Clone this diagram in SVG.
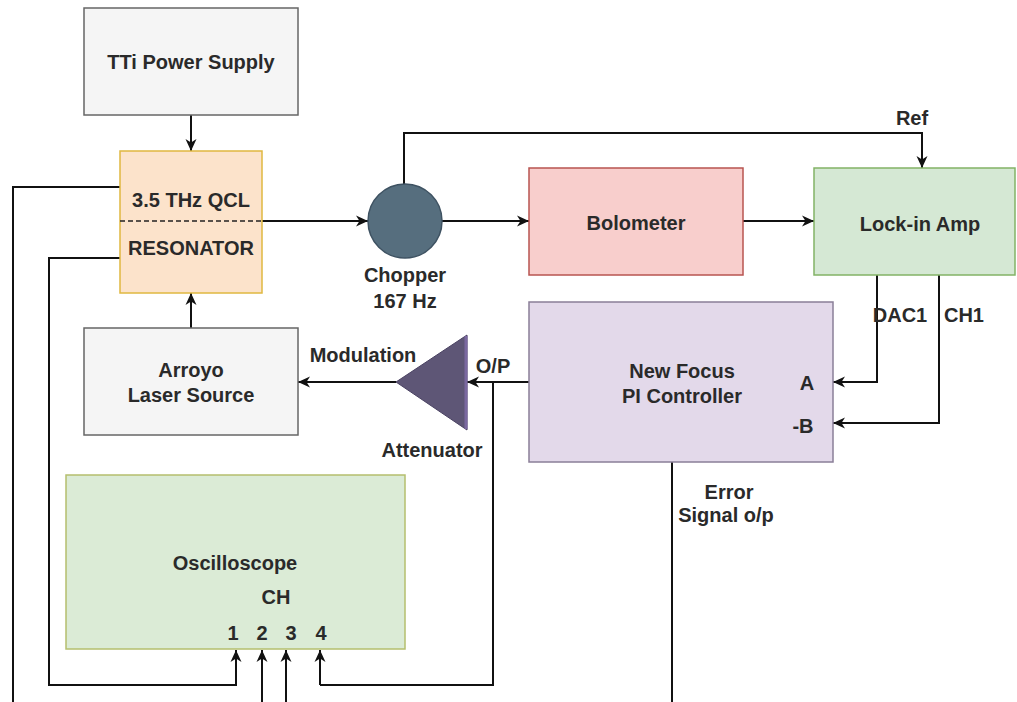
<svg xmlns="http://www.w3.org/2000/svg" width="1017" height="702" viewBox="0 0 1017 702">
<defs>
<marker id="arr" viewBox="0 0 12 12" refX="12" refY="6" markerWidth="12" markerHeight="12" markerUnits="userSpaceOnUse" orient="auto">
<path d="M0,0.5 L12,6 L0,11.5 L3.5,6 Z" fill="#111"/>
</marker>
</defs>
<style>
text{font-family:"Liberation Sans",Arial,sans-serif;font-size:20px;font-weight:bold;fill:#2a2a2a;text-anchor:middle}
.c{fill:none;stroke:#111;stroke-width:2}
.ca{fill:none;stroke:#111;stroke-width:2;marker-end:url(#arr)}
.box{stroke-width:1.5}
</style>
<rect width="1017" height="702" fill="#ffffff"/>
<g id="connectors">
<path class="ca" d="M191,115 V151"/>
<path class="ca" d="M191,328 V293"/>
<path class="ca" d="M262,221 H368"/>
<path class="ca" d="M442,221 H529"/>
<path class="ca" d="M404,185 V133 H922 V168"/>
<path class="ca" d="M743,221 H814"/>
<path class="ca" d="M877,275 V382 H833"/>
<path class="ca" d="M939,275 V423 H833"/>
<path class="ca" d="M529,382 H467"/>
<path class="ca" d="M396,382 H298"/>
<path class="c" d="M493,382 V685 H320"/>
<path class="ca" d="M320,685 V650"/>
<path class="ca" d="M120,258 H49 V685 H236 V650"/>
<path class="ca" d="M120,187 H13 V712 H262 V650"/>
<path class="ca" d="M672,462 V720 H286 V650"/>
</g>
<g id="tti">
<rect class="box" x="84" y="8" width="214" height="107" fill="#f5f5f5" stroke="#666"/>
<text x="191" y="69">TTi Power Supply</text>
</g>
<g id="qcl">
<rect class="box" x="120" y="151" width="142" height="142" fill="#fce3cb" stroke="#e0b840"/>
<line x1="120" y1="221" x2="262" y2="221" stroke="#222" stroke-width="1.5" stroke-dasharray="5,3"/>
<text x="191" y="207">3.5 THz QCL</text>
<text x="191" y="255">RESONATOR</text>
</g>
<g id="chopper">
<circle cx="405" cy="221" r="37" fill="#566e7e" stroke="#3e5262" stroke-width="1.5"/>
<text x="405" y="282">Chopper</text>
<text x="405" y="308">167 Hz</text>
</g>
<g id="bolometer">
<rect class="box" x="529" y="168" width="214" height="107" fill="#f8cecc" stroke="#b85450"/>
<text x="636" y="230">Bolometer</text>
</g>
<g id="lockin">
<rect class="box" x="814" y="168" width="201" height="107" fill="#d5e8d4" stroke="#82b366"/>
<text x="920" y="231">Lock-in Amp</text>
</g>
<g id="labels">
<text x="912" y="125">Ref</text>
<text x="900" y="322">DAC1</text>
<text x="964" y="322">CH1</text>
<text x="363" y="362">Modulation</text>
<text x="493" y="373">O/P</text>
<text x="729" y="499">Error</text>
<text x="726" y="522">Signal o/p</text>
</g>
<g id="pi">
<rect class="box" x="529" y="302" width="304" height="160" fill="#e3d9ea" stroke="#8a7f98"/>
<text x="682" y="378">New Focus</text>
<text x="682" y="403">PI Controller</text>
<text x="807" y="390">A</text>
<text x="803" y="433">-B</text>
</g>
<g id="attenuator">
<polygon points="396,382 467,335 467,430" fill="#5e5676" stroke="#4a4262" stroke-width="1"/>
<line x1="466" y1="336" x2="466" y2="429" stroke="#7a68a0" stroke-width="3"/>
<text x="432" y="457">Attenuator</text>
</g>
<g id="arroyo">
<rect class="box" x="84" y="328" width="214" height="107" fill="#f5f5f5" stroke="#666"/>
<text x="191" y="377">Arroyo</text>
<text x="191" y="402">Laser Source</text>
</g>
<g id="oscilloscope">
<rect class="box" x="66" y="475" width="339" height="174" fill="#dbebd6" stroke="#b5bf6e"/>
<text x="235" y="570">Oscilloscope</text>
<text x="276" y="604">CH</text>
<text x="233" y="640">1</text>
<text x="262" y="640">2</text>
<text x="291" y="640">3</text>
<text x="321" y="640">4</text>
</g>
</svg>
